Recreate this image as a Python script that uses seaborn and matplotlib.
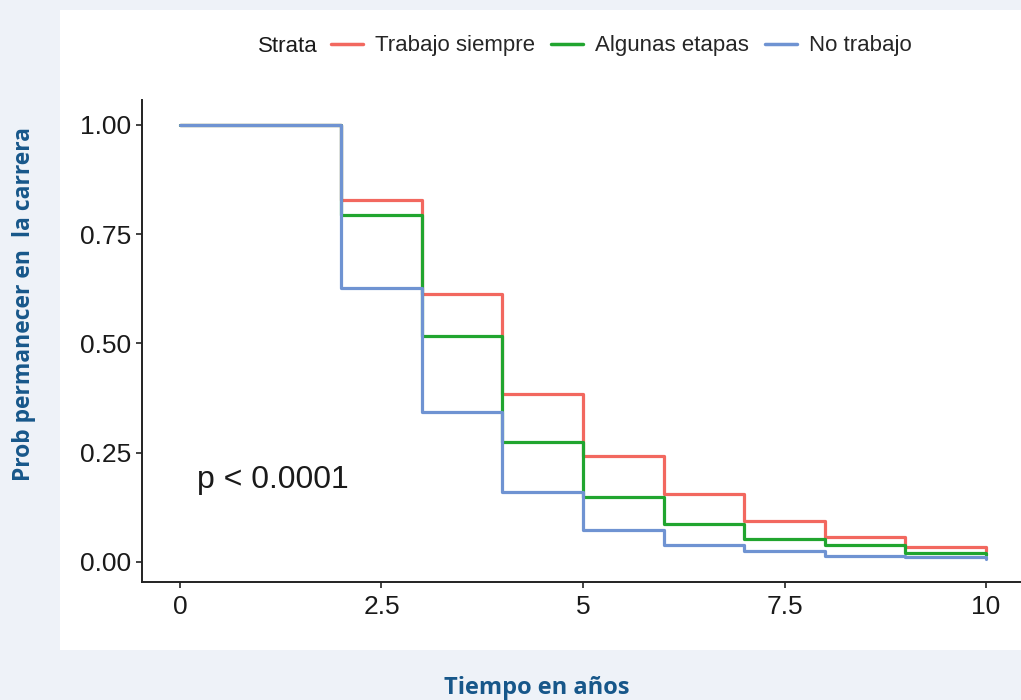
import pandas as pd
import matplotlib.pyplot as plt
import seaborn as sns
from matplotlib.patches import Rectangle

# Kaplan-Meier style survival values
tiempo = [0, 2, 3, 4, 5, 6, 7, 8, 9, 10]
trabajo_siempre = [1.00, 0.828, 0.613, 0.384, 0.242, 0.155, 0.094, 0.058, 0.035, 0.024]
algunas_etapas = [1.00, 0.794, 0.517, 0.274, 0.148, 0.086, 0.052, 0.039, 0.021, 0.015]
no_trabajo = [1.00, 0.627, 0.344, 0.160, 0.073, 0.039, 0.024, 0.014, 0.011, 0.006]

strata = ['Trabajo siempre', 'Algunas etapas', 'No trabajo']
colores = ['#F2685F', '#21A52F', '#6F93D2']

yticks = [0, 0.25, 0.5, 0.75, 1.0]
ytick_labels = ['0.00', '0.25', '0.50', '0.75', '1.00']
xticks = [0, 2.5, 5, 7.5, 10]
xtick_labels = ['0', '2.5', '5', '7.5', '10']

# long format table for seaborn
df = pd.concat([
    pd.DataFrame({'tiempo': tiempo, 'prob': vals, 'strata': name})
    for name, vals in zip(strata, [trabajo_siempre, algunas_etapas, no_trabajo])
])

sns.set_style('white')
plt.rcParams['font.family'] = ['Liberation Sans', 'DejaVu Sans']

fig = plt.figure(figsize=(10.21, 7), dpi=100)
fig.patch.set_facecolor('#eef2f8')
# white plotting panel (behind the axes)
panel = Rectangle((60 / 1021, 50 / 700), 961 / 1021, 640 / 700,
                  transform=fig.transFigure, facecolor='white',
                  edgecolor='none', zorder=-10)
fig.patches.append(panel)

ax = fig.add_axes([142 / 1021, 1 - 582 / 700, 879 / 1021, 482 / 700])
ax.set_facecolor('none')
ax.set_zorder(2)

sns.lineplot(data=df, x='tiempo', y='prob', hue='strata', hue_order=strata,
             palette=colores, drawstyle='steps-post', linewidth=2.3,
             legend=False, ax=ax)

ax.set_xlim(-0.471, 10.434)
ax.set_ylim(-0.0458, 1.0572)
ax.set_xticks(xticks)
ax.set_xticklabels(xtick_labels)
ax.set_yticks(yticks)
ax.set_yticklabels(ytick_labels)
ax.tick_params(axis='both', direction='out', length=4.5, width=1.2,
               bottom=True, left=True,
               color='#222222', labelsize=19, labelcolor='#1a1a1a', pad=3)
ax.tick_params(axis='x', pad=5)
for side in ['top', 'right']:
    ax.spines[side].set_visible(False)
for side in ['left', 'bottom']:
    ax.spines[side].set_color('#222222')
    ax.spines[side].set_linewidth(1.4)
ax.set_xlabel('')
ax.set_ylabel('')

ax.text(0.21, 0.17, 'p < 0.0001', fontsize=23, color='#1a1a1a', va='baseline')

# legend: "Strata" label followed by a horizontal legend
fig.text(258 / 1021, 1 - 46 / 700, 'Strata', fontsize=16, va='center', ha='left',
         color='#1a1a1a')
handles = [plt.Line2D([0], [0], color=c, linewidth=2.5) for c in colores]
fig.legend(handles, strata, loc='center left', bbox_to_anchor=(331 / 1021, 1 - 46 / 700),
           ncol=3, frameon=False, fontsize=16, handlelength=1.45, handletextpad=0.55,
           columnspacing=0.7, borderaxespad=0, borderpad=0)

# axis titles outside the white panel
fig.text(24 / 1021, 1 - 304 / 700, 'Prob permanecer en  la carrera', rotation=90,
         fontsize=16.5, fontweight='bold', color='#17578a', va='center', ha='center',
         family=['Open Sans', 'DejaVu Sans'])
fig.text(537 / 1021, 1 - 688 / 700, 'Tiempo en años', fontsize=17,
         fontweight='bold', color='#17578a', va='center', ha='center',
         family=['Open Sans', 'DejaVu Sans'])

fig.savefig('out.png', dpi=100, facecolor=fig.get_facecolor())
